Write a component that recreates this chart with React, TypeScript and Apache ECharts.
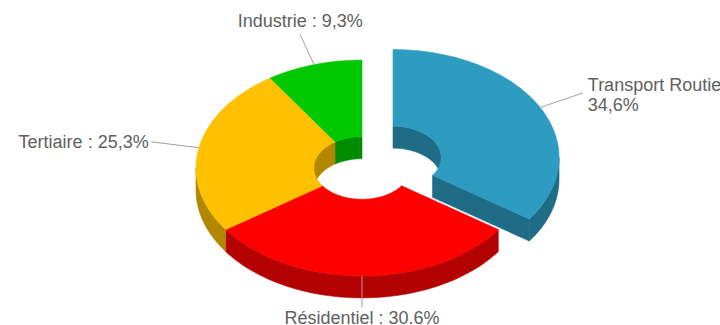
import React, { useEffect, useRef } from "react";
import * as echarts from "echarts";

// Energy consumption share by sector
const categories = ["Transport Routier", "Résidentiel", "Tertiaire", "Industrie"];
const values = [34.6, 30.6, 25.3, 9.3];
const valueLabels = ["34,6%", "30.6%", "25,3%", "9,3%"];
const topColors = ["#2E9BC1", "#FF0000", "#FFC000", "#00C800"];
const sideColors = ["#1F6C87", "#B30000", "#B38600", "#008C00"];
const exploded = [true, false, false, false];

// Geometry of the tilted donut
const CX = 362;
const CY = 168;
const RX = 166; // outer radius (horizontal)
const TILT = 0.65; // vertical squash of the projected ellipse
const INNER = 0.29; // inner radius as a fraction of outer
const DEPTH = 22; // extrusion height
const EXPLODE = 35; // offset of an exploded slice
const LABEL_R = 1.29; // label anchor radius relative to outer

const TAU = Math.PI * 2;

const total = values.reduce((a, b) => a + b, 0);
const startAngles: number[] = [];
{
  let acc = 0;
  for (const v of values) {
    startAngles.push((acc / total) * TAU);
    acc += v;
  }
}

type Pt = [number, number];

const pt = (ox: number, oy: number, r: number, th: number, dh: number): Pt => [
  ox + r * Math.sin(th),
  oy - r * TILT * Math.cos(th) + dh,
];

function arc(ox: number, oy: number, r: number, a: number, b: number, dh: number): Pt[] {
  const n = Math.max(2, Math.ceil(Math.abs(b - a) / (Math.PI / 120)));
  const out: Pt[] = [];
  for (let j = 0; j <= n; j++) {
    out.push(pt(ox, oy, r, a + ((b - a) * j) / n, dh));
  }
  return out;
}

function intersect(a0: number, a1: number, b0: number, b1: number): [number, number] | null {
  const s = Math.max(a0, b0);
  const e = Math.min(a1, b1);
  return e > s ? [s, e] : null;
}

function poly(points: Pt[], color: string, z2: number) {
  return {
    type: "polygon",
    z2,
    shape: { points },
    style: { fill: color, stroke: color, lineWidth: 0.6 },
  };
}

function renderItem(params: any, api: any) {
  const i = params.dataIndex;
  const v = api.value(0) as number;
  const a0 = startAngles[i];
  const a1 = a0 + (v / total) * TAU;
  const mid = (a0 + a1) / 2;
  const [ox, oy] = exploded[i] ? pt(CX, CY, EXPLODE, mid, 0) : [CX, CY];
  const rOut = RX;
  const rIn = RX * INNER;
  const top = topColors[i];
  const side = sideColors[i];
  const children: any[] = [];

  // back part of the hole wall
  const backRanges = [intersect(a0, a1, 0, Math.PI / 2), intersect(a0, a1, (3 * Math.PI) / 2, TAU)];
  for (const r of backRanges) {
    if (!r) continue;
    const up = arc(ox, oy, rIn, r[0], r[1], 0);
    const down = arc(ox, oy, rIn, r[1], r[0], DEPTH);
    children.push(poly([...up, ...down], side, 1));
  }

  // front part of the outer wall
  const front = intersect(a0, a1, Math.PI / 2, (3 * Math.PI) / 2);
  if (front) {
    const up = arc(ox, oy, rOut, front[0], front[1], 0);
    const down = arc(ox, oy, rOut, front[1], front[0], DEPTH);
    children.push(poly([...up, ...down], side, 2));
  }

  // radial cut faces where a slice is pulled out
  const next = (i + 1) % values.length;
  const prev = (i - 1 + values.length) % values.length;
  const cutFace = (th: number) =>
    poly(
      [pt(ox, oy, rIn, th, 0), pt(ox, oy, rOut, th, 0), pt(ox, oy, rOut, th, DEPTH), pt(ox, oy, rIn, th, DEPTH)],
      side,
      3
    );
  if ((exploded[i] || exploded[prev]) && Math.sin(a0) < -1e-6) children.push(cutFace(a0));
  if ((exploded[i] || exploded[next]) && Math.sin(a1) > 1e-6) children.push(cutFace(a1));

  // top face
  children.push(poly([...arc(ox, oy, rOut, a0, a1, 0), ...arc(ox, oy, rIn, a1, a0, 0)], top, 4));

  // connector and label
  const s = Math.sin(mid);
  const c = Math.cos(mid);
  const start = pt(ox, oy, rOut, mid, 0);
  const end = pt(ox, oy, rOut * LABEL_R, mid, 0);
  children.push({
    type: "line",
    z2: 10,
    shape: { x1: start[0], y1: start[1], x2: end[0], y2: end[1] },
    style: { stroke: "#A0A0A0", lineWidth: 1 },
  });

  let tx = end[0];
  let ty = end[1];
  let align = "center";
  let vAlign = "middle";
  if (Math.abs(s) < 0.4) {
    if (c > 0) {
      vAlign = "bottom";
      ty -= 4;
    } else {
      vAlign = "top";
      ty += 1;
    }
  } else if (s > 0) {
    align = "left";
    tx += 5;
    ty += 2;
  } else {
    align = "right";
    tx -= 3;
  }
  children.push({
    type: "text",
    z2: 20,
    x: tx,
    y: ty,
    style: {
      text: `${categories[i]} : ${valueLabels[i]}`,
      fill: "#606060",
      font: '18px "Liberation Sans", Arial, sans-serif',
      align,
      verticalAlign: vAlign,
      width: 175,
      overflow: "break",
      lineHeight: 20,
    },
  });

  return { type: "group", children };
}

export default function App() {
  const ref = useRef<HTMLDivElement>(null);

  useEffect(() => {
    if (!ref.current) return;
    const chart = echarts.init(ref.current, undefined, { renderer: "svg" });
    chart.setOption({
      animation: false,
      backgroundColor: "#FFFFFF",
      series: [
        {
          type: "custom",
          coordinateSystem: "none",
          silent: true,
          renderItem,
          data: values.map((v, i) => ({ name: categories[i], value: [v] })),
        },
      ],
    });
    return () => chart.dispose();
  }, []);

  return (
    <div
      ref={ref}
      style={{ position: "fixed", left: 0, top: 0, width: 720, height: 325, background: "#FFFFFF" }}
    />
  );
}
